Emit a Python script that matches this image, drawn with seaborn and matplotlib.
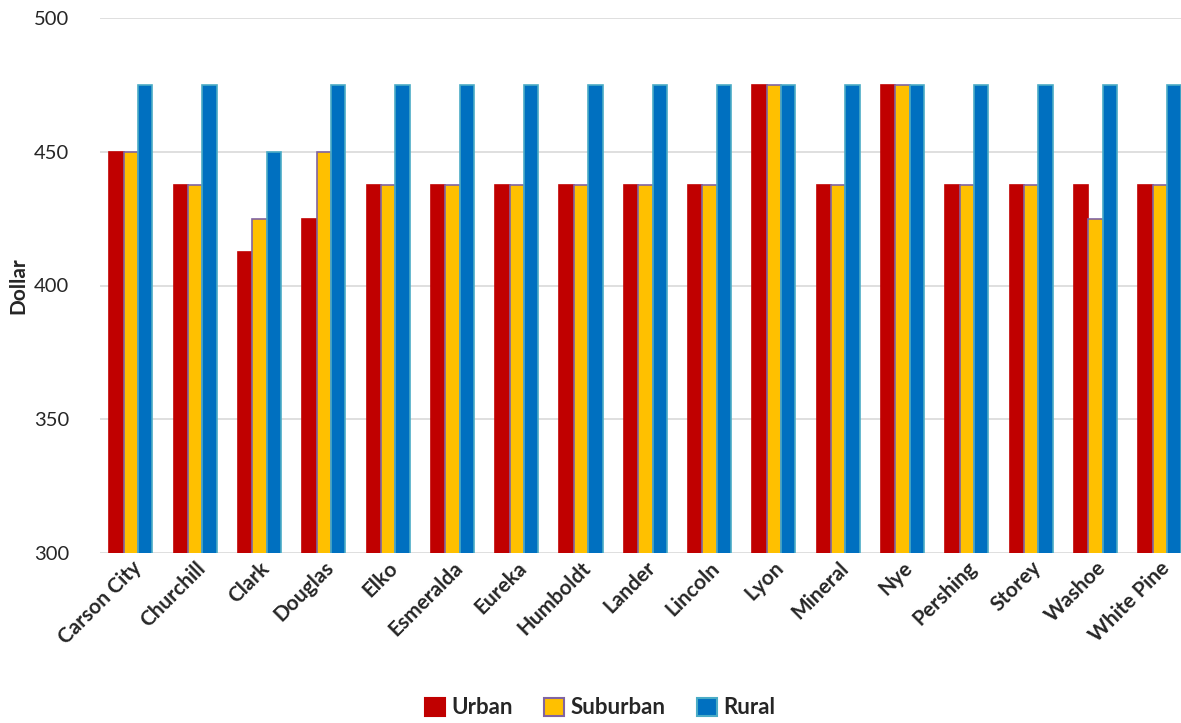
import pandas as pd
import seaborn as sns
import matplotlib.pyplot as plt

# --------------------------------------------------
# Data
# --------------------------------------------------

COUNTIES = ["Carson City", "Churchill", "Clark", "Douglas", "Elko", "Esmeralda",
            "Eureka", "Humboldt", "Lander", "Lincoln", "Lyon", "Mineral", "Nye",
            "Pershing", "Storey", "Washoe", "White Pine"]

URBAN = [450, 437.5, 412.5, 425, 437.5, 437.5, 437.5, 437.5, 437.5, 437.5,
         475, 437.5, 475, 437.5, 437.5, 437.5, 437.5]
SUBURBAN = [450, 437.5, 425, 450, 437.5, 437.5, 437.5, 437.5, 437.5, 437.5,
            475, 437.5, 475, 437.5, 437.5, 425, 437.5]
RURAL = [475, 475, 450, 475, 475, 475, 475, 475, 475, 475,
         475, 475, 475, 475, 475, 475, 475]

SERIES = ["Urban", "Suburban", "Rural"]
FILL = ["#C00000", "#FFC000", "#0070C0"]
EDGE = ["#C00000", "#8064A2", "#4BACC6"]

df = pd.DataFrame({
    "county": COUNTIES * 3,
    "area": [s for s in SERIES for _ in COUNTIES],
    "value": URBAN + SUBURBAN + RURAL,
})

# --------------------------------------------------
# Plot
# --------------------------------------------------

sns.set_style("white")
plt.rcParams["font.family"] = ["Lato", "DejaVu Sans"]

fig = plt.figure(figsize=(11.81, 7.23), dpi=100)
ax = fig.add_axes([100 / 1181, 1 - 553 / 723, 1 - 100 / 1181, (553 - 18) / 723])

sns.barplot(data=df, x="county", y="value", hue="area", hue_order=SERIES,
            palette=FILL, width=0.67, ax=ax, legend=False, saturation=1)

for container, ec in zip(ax.containers, EDGE):
    for bar in container:
        bar.set_edgecolor(ec)
        bar.set_linewidth(1.2)

ax.set_ylim(300, 500)
ax.set_xlim(-0.48, 16.33)
ax.set_yticks([300, 350, 400, 450, 500])
ax.yaxis.grid(True, color="#D9D9D9", linewidth=1.2)
ax.set_axisbelow(True)
sns.despine(ax=ax, left=True, bottom=True, top=True, right=True)
ax.tick_params(axis="both", length=0)
ax.tick_params(axis="y", pad=22, labelsize=14.5)

ax.set_xlabel("")
ax.set_ylabel("Dollar", fontsize=15, fontweight="bold", labelpad=4)
plt.setp(ax.get_xticklabels(), rotation=45, ha="right", rotation_mode="anchor",
         fontweight="bold", fontsize=15)

handles = [plt.Rectangle((0, 0), 1, 1, facecolor=f, edgecolor=e, linewidth=1.5)
           for f, e in zip(FILL, EDGE)]
fig.legend(handles, SERIES, loc="center", bbox_to_anchor=(0.508, 1 - 708 / 723),
           ncol=3, frameon=False, handlelength=0.9, handleheight=0.9,
           handletextpad=0.3, columnspacing=1.4,
           prop={"weight": "bold", "size": 16})

fig.savefig("out.png", dpi=100)
